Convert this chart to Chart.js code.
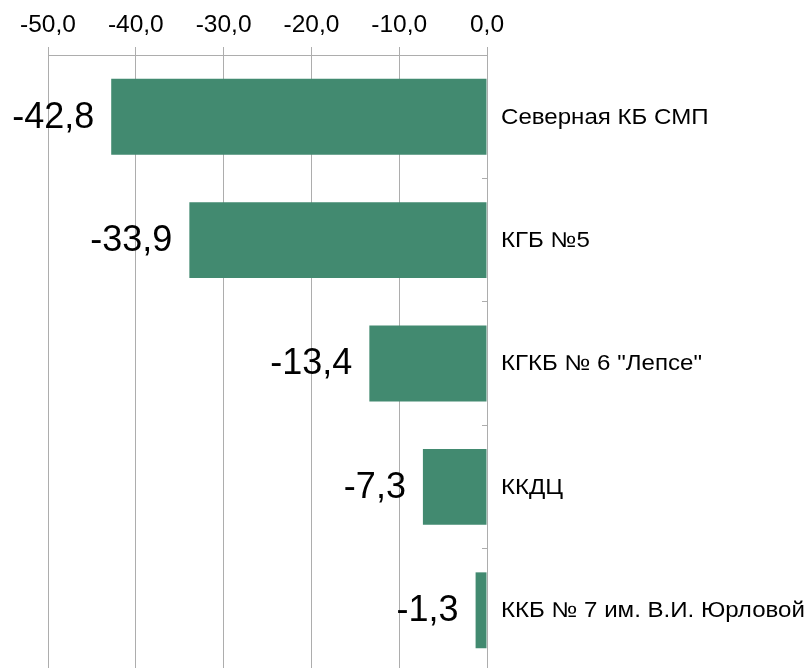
<!DOCTYPE html>
<html>
<head>
<meta charset="utf-8">
<script src="https://cdn.jsdelivr.net/npm/chart.js@4"></script>
<style>
  body { margin: 0; background: #fff; overflow: hidden; }
</style>
</head>
<body>
<canvas id="barChart" width="809" height="680"></canvas>
<script>
const categories = ['Северная КБ СМП', 'КГБ №5', 'КГКБ № 6 "Лепсе"', 'ККДЦ', 'ККБ № 7 им. В.И. Юрловой'];
const values = [-42.8, -33.9, -13.4, -7.3, -1.3];
const tickValues = [-50, -40, -30, -20, -10, 0];

const fmt = v => v.toFixed(1).replace('.', ',');
const FONT = "'Liberation Sans', Arial, sans-serif";
const gridGray = '#adadad';

// value labels left of bars, category names right of the zero line
const labelsPlugin = {
  id: 'barLabels',
  afterDatasetsDraw(chart) {
    const ctx = chart.ctx;
    const meta = chart.getDatasetMeta(0);
    const zeroX = chart.scales.x.getPixelForValue(0);
    ctx.save();
    ctx.fillStyle = '#000';
    ctx.textBaseline = 'middle';
    meta.data.forEach((bar, i) => {
      ctx.font = '36px ' + FONT;
      ctx.textAlign = 'right';
      ctx.fillText(fmt(values[i]), bar.x - 17, bar.y + 1);
      // category names look a bit wider in the original
      ctx.save();
      ctx.translate(zeroX + 14, bar.y + 1);
      ctx.scale(1.12, 1);
      ctx.font = '21.5px ' + FONT;
      ctx.textAlign = 'left';
      ctx.fillText(categories[i], 0, 0);
      ctx.restore();
    });
    ctx.restore();
  }
};

const ctx = document.getElementById('barChart').getContext('2d');
let barChart = new Chart(ctx, {
  type: 'bar',
  data: {
    labels: categories,
    datasets: [{
      data: values,
      backgroundColor: '#428a70',
      borderWidth: 0,
      barPercentage: 0.615,
      categoryPercentage: 1
    }]
  },
  options: {
    indexAxis: 'y',
    responsive: false,
    animation: false,
    layout: { padding: { left: 48, right: 322, top: 0, bottom: 8 } },
    plugins: {
      legend: { display: false },
      tooltip: { enabled: false }
    },
    scales: {
      x: {
        position: 'top',
        min: -50,
        max: 0,
        afterFit: s => { s.height = 55; },
        afterBuildTicks: s => { s.ticks = tickValues.map(v => ({ value: v })); },
        ticks: {
          callback: v => fmt(v),
          color: '#000',
          padding: 7,
          maxRotation: 0,
          font: { family: FONT, size: 24.5 }
        },
        grid: { color: gridGray, lineWidth: 1, tickLength: 8 },
        border: { color: gridGray, width: 1 }
      },
      y: {
        position: { x: 0 },
        ticks: { display: false },
        grid: { drawOnChartArea: false, offset: true, color: gridGray, tickLength: 5 },
        border: { color: gridGray, width: 1 }
      }
    }
  },
  plugins: [labelsPlugin]
});
</script>
</body>
</html>
